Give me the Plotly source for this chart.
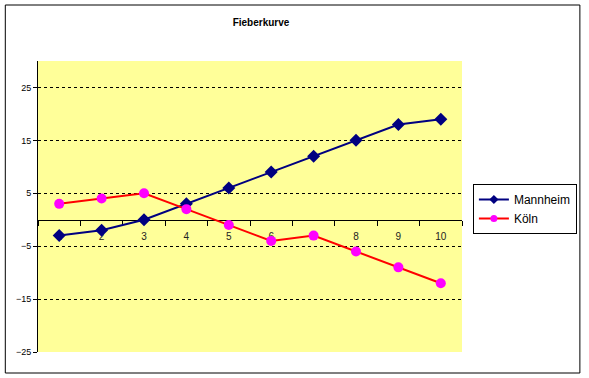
import plotly.graph_objects as go

categories = ["1", "2", "3", "4", "5", "6", "7", "8", "9", "10"]
mannheim = [-3, -2, 0, 3, 6, 9, 12, 15, 18, 19]
koeln = [3, 4, 5, 2, -1, -4, -3, -6, -9, -12]
y_ticks = [-25, -15, -5, 5, 15, 25]

W, H = 589, 378
L, R, T, B = 38, 123, 61, 26
pw, ph = W - L - R, H - T - B

series = [
    ("Mannheim", mannheim, "#000080", "diamond", "#000080"),
    ("Köln", koeln, "#FF0000", "circle", "#FF00FF"),
]

fig = go.Figure()
for name, vals, lc, sym, mc in series:
    fig.add_trace(go.Scatter(
        x=categories, y=vals, name=name, mode="lines+markers", showlegend=False,
        line=dict(color=lc, width=2),
        marker=dict(symbol=sym, size=10, color=mc),
    ))
for name, vals, lc, sym, mc in series:
    # legend-only entries with smaller symbols (as in the reference legend)
    fig.add_trace(go.Scatter(
        x=[None], y=[None], name=name, mode="lines+markers", showlegend=True,
        line=dict(color=lc, width=2),
        marker=dict(symbol=sym, size=7, color=mc),
    ))

ymin, ymax = -25, 30
fig.update_layout(
    width=W, height=H,
    margin=dict(l=L, r=R, t=T, b=B),
    paper_bgcolor="white",
    plot_bgcolor="#FFFF99",
    font=dict(family="Liberation Sans, Arial, sans-serif", size=9, color="black"),
    title=dict(text="<b>Fieberkurve</b>", x=261 / W, xref="container", xanchor="center",
               y=1 - 22 / H, yref="container", yanchor="middle",
               font=dict(size=10, family="Liberation Sans, Arial, sans-serif")),
    xaxis=dict(
        type="category", tickson="boundaries", ticks="outside", ticklen=5,
        tickcolor="black", showline=True, linecolor="black", linewidth=1,
        showgrid=False, zeroline=False, anchor="free",
        position=(0 - ymin) / (ymax - ymin), layer="below traces",
        range=[-0.5, 9.5], tickfont=dict(size=10, color="#222222"),
        ticklabelstandoff=7,
    ),
    yaxis=dict(
        range=[ymin, ymax], tickvals=y_ticks, ticks="outside", ticklen=4,
        tickcolor="black", showline=True, linecolor="black", linewidth=1,
        showgrid=True, gridcolor="black", griddash="3px,3px", gridwidth=1,
        zeroline=False, tickfont=dict(size=9),
    ),
    legend=dict(
        x=(477 - L) / pw, xanchor="left", y=(H - B - 184) / ph, yanchor="top",
        bordercolor="black", borderwidth=1, bgcolor="white",
        font=dict(size=12, family="Liberation Sans, Arial, sans-serif"),
        itemwidth=30, tracegroupgap=0,
    ),
    showlegend=True,
)

fig.add_shape(
    type="rect", xref="paper", yref="paper",
    x0=(5 - L) / pw, x1=(585 - L) / pw,
    y0=(H - B - 373) / ph, y1=(H - B - 5) / ph,
    line=dict(color="black", width=1), fillcolor="rgba(0,0,0,0)", layer="below",
)

fig.write_html("out.html", config={"displayModeBar": False},
               post_script="document.body.style.margin='0';")
